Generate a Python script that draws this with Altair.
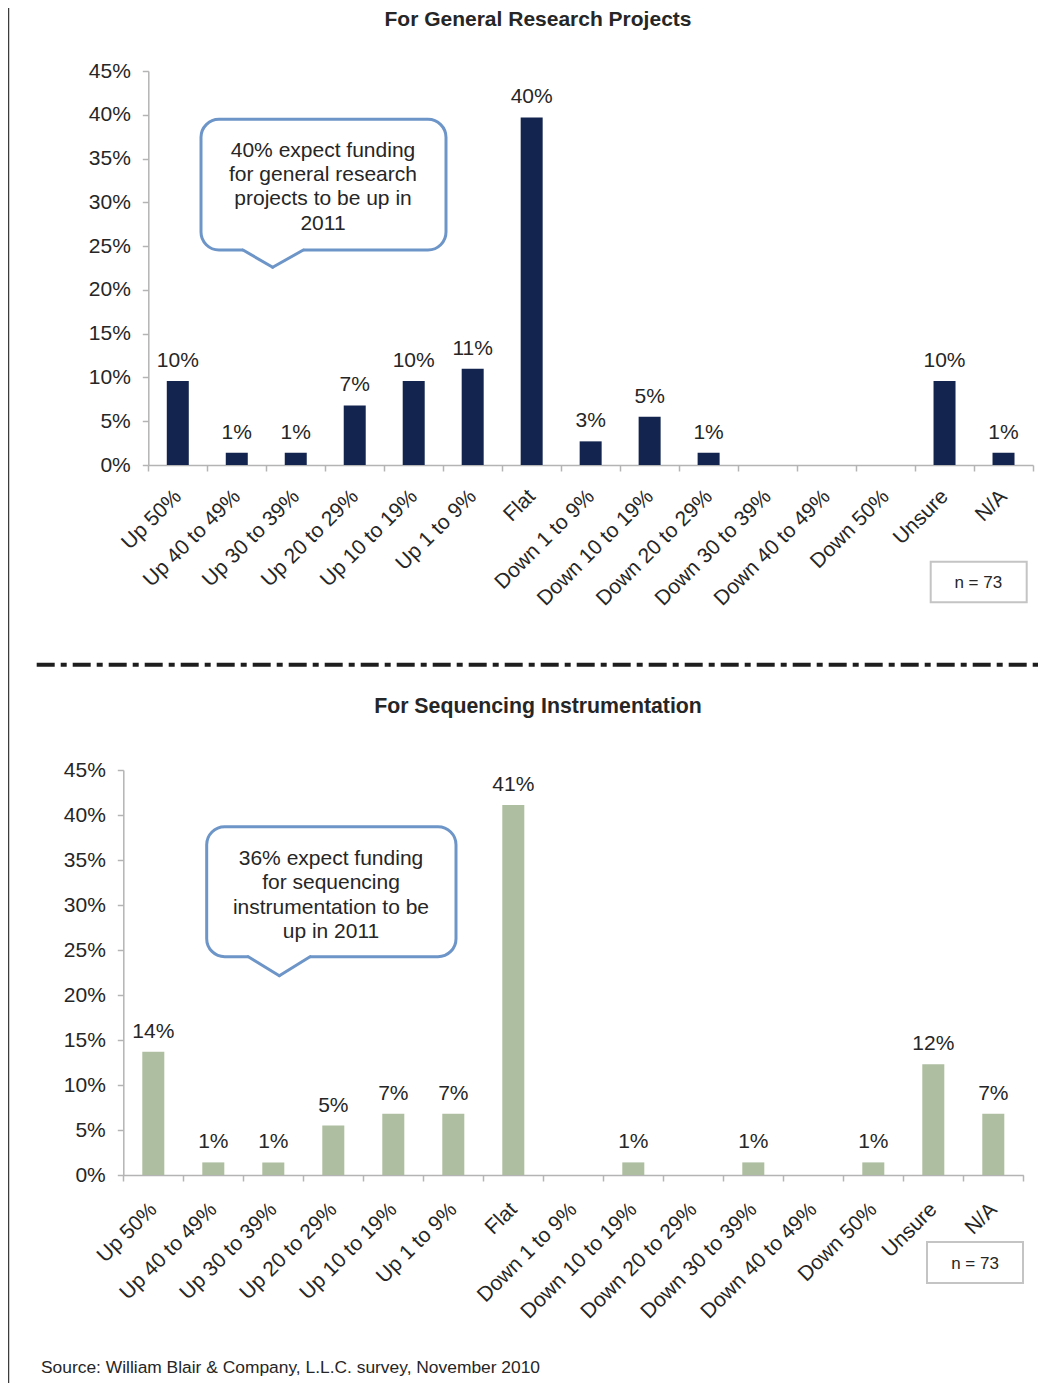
import altair as alt
import pandas as pd

# ---------------- data ----------------
categories = ["Up 50%", "Up 40 to 49%", "Up 30 to 39%", "Up 20 to 29%", "Up 10 to 19%",
              "Up 1 to 9%", "Flat", "Down 1 to 9%", "Down 10 to 19%", "Down 20 to 29%",
              "Down 30 to 39%", "Down 40 to 49%", "Down 50%", "Unsure", "N/A"]
research_values = [9.6, 1.4, 1.4, 6.8, 9.6, 11.0, 39.7, 2.7, 5.5, 1.4, 0, 0, 0, 9.6, 1.4]
research_labels = ["10%", "1%", "1%", "7%", "10%", "11%", "40%", "3%", "5%", "1%", "", "", "", "10%", "1%"]
seq_values = [13.7, 1.4, 1.4, 5.5, 6.8, 6.8, 41.1, 0, 1.4, 0, 1.4, 0, 1.4, 12.3, 6.8]
seq_labels = ["14%", "1%", "1%", "5%", "7%", "7%", "41%", "", "1%", "", "1%", "", "1%", "12%", "7%"]
y_ticks = [0, 5, 10, 15, 20, 25, 30, 35, 40, 45]

title_top = "For General Research Projects"
title_bottom = "For Sequencing Instrumentation"
callout_top = "40% expect funding\nfor general research\nprojects to be up in\n2011"
callout_bottom = "36% expect funding\nfor sequencing\ninstrumentation to be\nup in 2011"
n_text = "n = 73"
source_text = "Source: William Blair & Company, L.L.C. survey, November 2010"

# ---------------- styling ----------------
FONT = "Liberation Sans"
TXT = "#262626"
AXIS_C = "#B4B4B4"
BLUE = "#6D95C8"
W, H = 1047, 1375

one = pd.DataFrame({"a": [0]})


def panel(values, labels, color, x_range, y_range, pad):
    df = pd.DataFrame({"cat": categories, "v": values, "lab": labels})
    x = alt.X("cat:N", sort=categories,
              scale=alt.Scale(range=x_range, paddingInner=0, paddingOuter=0),
              axis=alt.Axis(orient="bottom", offset=y_range[0] - H, title=None,
                            labelAngle=-45, labelAlign="right", labelBaseline="middle",
                            labelPadding=pad, tickBand="extent", tickSize=6,
                            tickColor=AXIS_C, domainColor=AXIS_C, domainWidth=1.5,
                            tickWidth=1.5, labelFont=FONT, labelFontSize=21,
                            labelColor=TXT, grid=False, labelOverlap=False))
    y = alt.Y("v:Q",
              scale=alt.Scale(domain=[0, 45], range=y_range, nice=False, zero=True),
              axis=alt.Axis(orient="left", offset=-x_range[0], title=None,
                            values=y_ticks, labelExpr="datum.value + '%'",
                            tickSize=6, tickColor=AXIS_C, domainColor=AXIS_C,
                            domainWidth=1.5, tickWidth=1.5, labelPadding=12,
                            labelFont=FONT, labelFontSize=21, labelColor=TXT,
                            grid=False))
    bars = alt.Chart(df).mark_bar(size=22, color=color).encode(x=x, y=y)
    text = alt.Chart(df).mark_text(font=FONT, fontSize=21, color=TXT,
                                   baseline="alphabetic", dy=-14).encode(
        x=x, y=y, text="lab:N")
    return alt.layer(bars, text)


top = panel(research_values, research_labels, "#13254F", [140.3, 1025.0], [457, 63], 22)
bottom = panel(seq_values, seq_labels, "#AEBEA0", [115.3, 1015.3], [1167, 762], 25)


def txt(s, x, y, size=21, bold=False, align="center", line_height=None):
    kw = dict(font=FONT, fontSize=size, color=TXT, align=align, baseline="alphabetic",
              fontWeight="bold" if bold else "normal", text=s)
    if line_height:
        kw.update(lineBreak="\n", lineHeight=line_height)
    return alt.Chart(one).mark_text(**kw).encode(x=alt.value(x), y=alt.value(y))


def rect(x1, x2, y1, y2, stroke, sw, radius=0):
    return alt.Chart(one).mark_rect(fill="white", stroke=stroke, strokeWidth=sw,
                                    cornerRadius=radius).encode(
        x=alt.value(x1), x2=alt.value(x2), y=alt.value(y1), y2=alt.value(y2))


def rule(x1, y1, x2, y2, color, sw, dash=None, cap="round"):
    kw = dict(color=color, strokeWidth=sw, strokeCap=cap)
    if dash:
        kw["strokeDash"] = dash
    return alt.Chart(one).mark_rule(**kw).encode(
        x=alt.value(x1), y=alt.value(y1), x2=alt.value(x2), y2=alt.value(y2))


def callout(x1, x2, y1, y2, px1, tipx, px2, tipy, s, tx, ty):
    return [
        rect(x1, x2, y1, y2, BLUE, 3, 18),
        rule(px1, y2, px2, y2, "white", 5, cap="butt"),
        rule(px1, y2, tipx, tipy, BLUE, 3),
        rule(tipx, tipy, px2, y2, BLUE, 3),
        txt(s, tx, ty, 21, line_height=24.4),
    ]


annotations = []
annotations += [rule(0.5, 0, 0.5, H, "#3C3C3C", 1.5, cap="butt")]
annotations += [txt(title_top, 530, 18, 21, bold=True)]
annotations += [txt(title_bottom, 530, 705, 21.3, bold=True)]
annotations += callout(193, 438, 111.3, 242, 235, 264.7, 295.3, 259.3,
                       callout_top, 315, 148.7)
annotations += callout(198.7, 448, 818.7, 948.7, 240.3, 271.3, 302, 967.7,
                       callout_bottom, 323, 857)
annotations += [rect(922.7, 1018.7, 553.7, 594.3, "#C4C4C4", 2),
                txt(n_text, 970.3, 580.3, 17)]
annotations += [rect(919, 1015, 1234, 1275, "#C4C4C4", 2),
                txt(n_text, 967, 1261, 17)]
annotations += [rule(28.7, 656.7, 1030, 656.7, "#1E1E1E", 4, dash=[18, 6, 6, 6], cap="butt")]
annotations += [txt(source_text, 33, 1365, 17.4, align="left")]

chart = alt.layer(top, bottom, *annotations).resolve_scale(
    x="independent", y="independent").resolve_axis(
    x="independent", y="independent").properties(
    width=W, height=H, padding=0,
    autosize=alt.AutoSizeParams(type="none")).configure_view(stroke=None)

chart.save("out.html", embed_options={"renderer": "svg", "actions": False})
